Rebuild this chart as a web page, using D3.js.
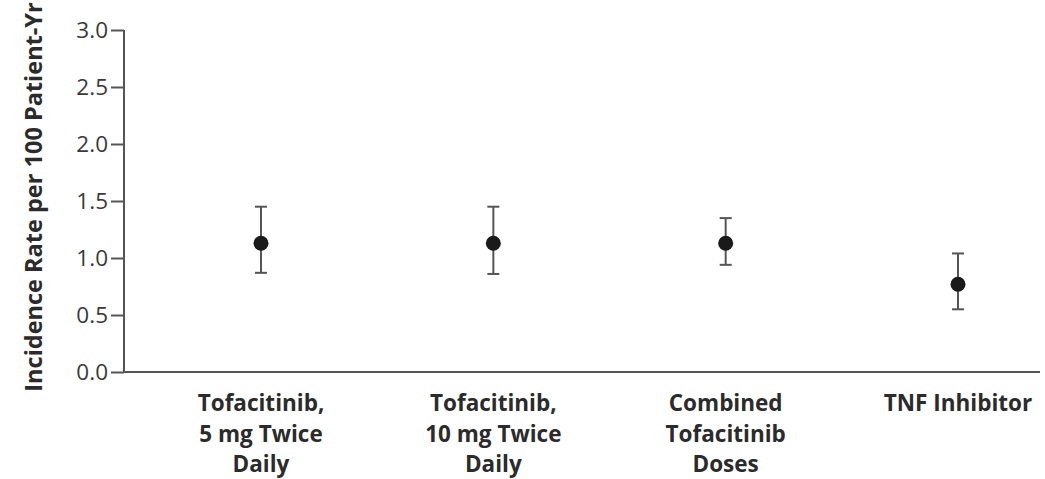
<!DOCTYPE html>
<html>
<head>
<meta charset="utf-8">
<script src="https://cdn.jsdelivr.net/npm/d3@7"></script>
<style>
  html, body { margin: 0; padding: 0; background: #fff; }
  svg { display: block; }
</style>
</head>
<body>
<svg id="chart" width="1045" height="479"></svg>
<script>
// Incidence rate of cancer (excluding NMSC) per 100 patient-years, with 95% CI
const groups = [
  ["Tofacitinib,", "5 mg Twice", "Daily"],
  ["Tofacitinib,", "10 mg Twice", "Daily"],
  ["Combined", "Tofacitinib", "Doses"],
  ["TNF Inhibitor"]
];
const rates = [1.13, 1.13, 1.13, 0.77];
const lower = [0.87, 0.86, 0.94, 0.55];
const upper = [1.45, 1.45, 1.35, 1.04];
const yTicks = [0.0, 0.5, 1.0, 1.5, 2.0, 2.5, 3.0];
const yTitle = "Incidence Rate per 100 Patient-Yr";

const svg = d3.select("#chart");
const axisColor = "#555";
const textColor = "#2b2b2b";
const font = "'Open Sans', sans-serif";

const x0 = 124, x1 = 1040, yTop = 30, yBottom = 372;

const y = d3.scaleLinear().domain([0, 3]).range([yBottom, yTop]);
const keys = groups.map((g, i) => i);
const x = d3.scalePoint().domain(keys).range([261, 958]);

// y axis
const yAxis = svg.append("g")
  .attr("transform", `translate(${x0},0)`)
  .call(d3.axisLeft(y).tickValues(yTicks).tickFormat(d3.format(".1f")).tickSize(13).tickPadding(3));
yAxis.select(".domain").attr("d", `M0,${yTop}V${yBottom}`).attr("stroke", axisColor).attr("stroke-width", 2);
yAxis.selectAll(".tick line").attr("stroke", axisColor).attr("stroke-width", 2);
yAxis.selectAll(".tick text")
  .attr("fill", "#3a3a3a")
  .style("font-family", font)
  .style("font-size", "22.5px")
  .style("font-weight", 400);

// x axis baseline
svg.append("line")
  .attr("x1", x0).attr("x2", x1)
  .attr("y1", yBottom).attr("y2", yBottom)
  .attr("stroke", axisColor).attr("stroke-width", 2);

// y axis title
svg.append("text")
  .attr("transform", `translate(42,${197}) rotate(-90)`)
  .attr("text-anchor", "middle")
  .attr("fill", textColor)
  .style("font-family", font)
  .style("font-size", "23.5px")
  .style("font-weight", 700)
  .text(yTitle);

// category labels
const lab = svg.append("g");
groups.forEach((lines, i) => {
  const t = lab.append("text")
    .attr("text-anchor", "middle")
    .attr("fill", textColor)
    .style("font-family", font)
    .style("font-size", "22.5px")
    .style("font-weight", 700);
  lines.forEach((s, j) => {
    t.append("tspan").attr("x", x(i)).attr("y", 411 + j * 30.5).text(s);
  });
});

// error bars and points
const marks = svg.append("g");
keys.forEach(i => {
  const cx = x(i);
  marks.append("line")
    .attr("x1", cx).attr("x2", cx)
    .attr("y1", y(upper[i])).attr("y2", y(lower[i]))
    .attr("stroke", axisColor).attr("stroke-width", 2);
  [upper[i], lower[i]].forEach(v => {
    marks.append("line")
      .attr("x1", cx - 6).attr("x2", cx + 6)
      .attr("y1", y(v)).attr("y2", y(v))
      .attr("stroke", axisColor).attr("stroke-width", 2);
  });
  marks.append("circle")
    .attr("cx", cx).attr("cy", y(rates[i]))
    .attr("r", 7.5)
    .attr("fill", "#1a1a1a");
});
</script>
</body>
</html>
